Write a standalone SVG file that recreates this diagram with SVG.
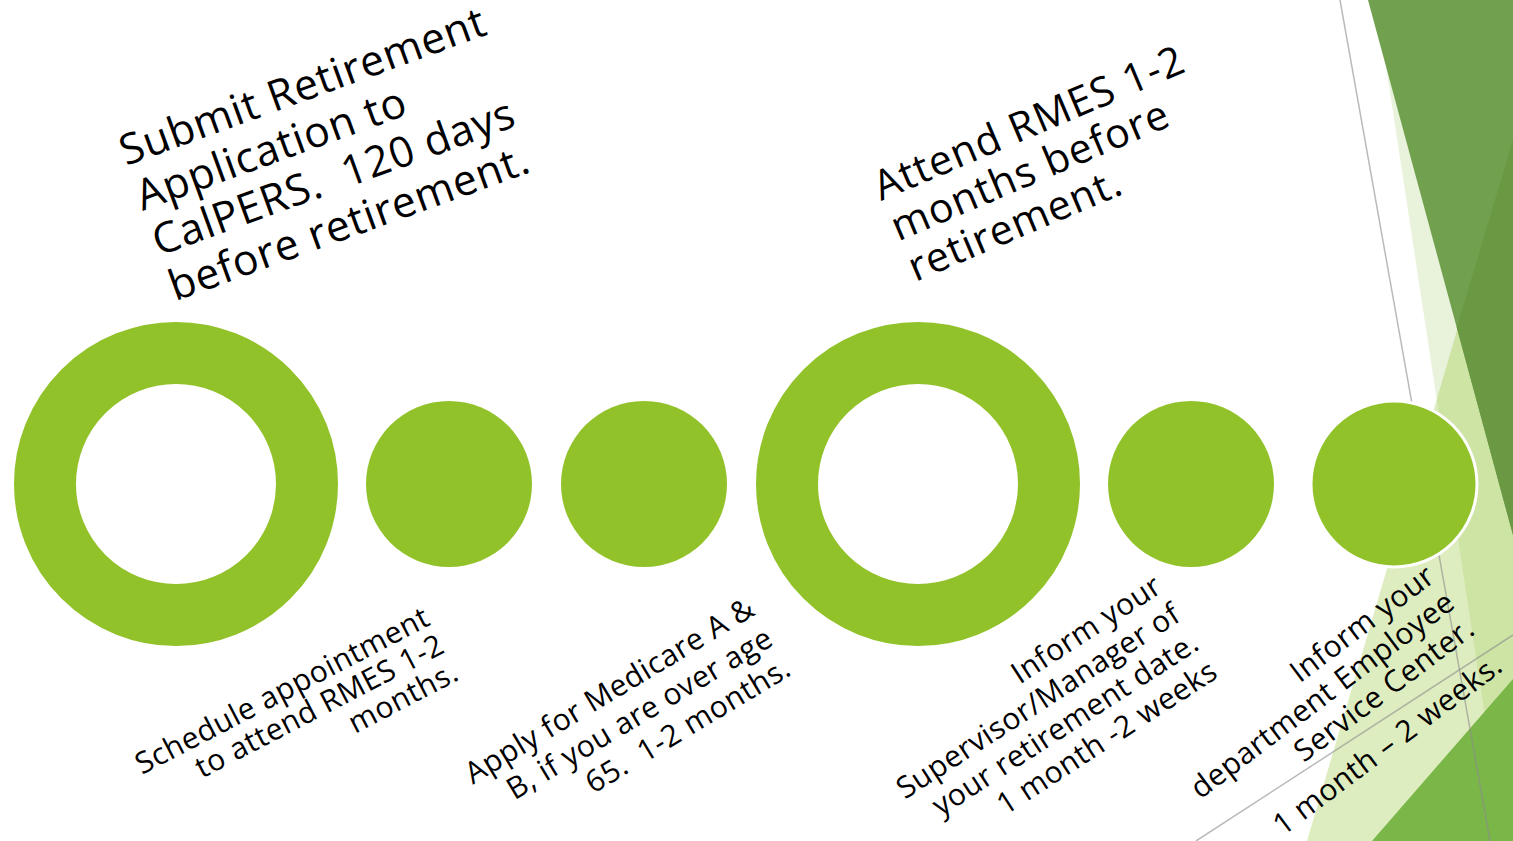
<svg xmlns="http://www.w3.org/2000/svg" width="1513" height="841" viewBox="0 0 1513 841">
<style>
.t{font-family:"Open Sans","Noto Sans","DejaVu Sans",sans-serif;fill:#000;white-space:pre}
.h1{font-size:42.5px;letter-spacing:0.8px}
.h2{font-size:41px;letter-spacing:1.1px}
.sm{font-size:30px;letter-spacing:0.5px;text-anchor:end}
.dot{fill:#92C22A}
.ring{fill:none;stroke:#92C22A;stroke-width:62}
.gl{stroke:#8C8C8C;stroke-opacity:0.6;stroke-width:1.5;fill:none}
</style>
<rect width="1513" height="841" fill="#FFFFFF"/>
<g id="background">
<polygon points="1376,0 1513,0 1513,841 1504,841" fill="#E9F2DA"/>
<polygon points="1513,140 1307,841 1513,841" fill="#92C22A" fill-opacity="0.3"/>
<polygon points="1368,0 1513,0 1513,535" fill="#71A04E"/>
<polygon points="1513,140 1456.8,327.5 1513,535" fill="#6A9843"/>
<polygon points="1372,841 1513,679 1513,841" fill="#7AB648"/>
<line class="gl" x1="1340" y1="0" x2="1490" y2="841"/>
<line class="gl" x1="1196" y1="841" x2="1513" y2="635"/>
</g>
<g id="node-ring1"><circle class="ring" cx="176" cy="484" r="131"/></g>
<g id="node-dot1"><circle class="dot" cx="449" cy="484" r="83"/></g>
<g id="node-dot2"><circle class="dot" cx="644" cy="484" r="83"/></g>
<g id="node-ring2"><circle class="ring" cx="918" cy="484" r="131"/></g>
<g id="node-dot3"><circle class="dot" cx="1191" cy="484" r="83"/></g>
<g id="node-dot4"><circle class="dot" cx="1394" cy="484" r="83" stroke="#FFFFFF" stroke-width="3"/></g>
<g id="connectors"></g>
<g id="label-submit" transform="translate(126,166) rotate(-20)">
<text class="t h1" x="0" y="0">Submit Retirement</text>
<text class="t h1" x="0" y="48">Application to</text>
<text class="t h1" x="0" y="96">CalPERS.  120 days</text>
<text class="t h1" x="0" y="144">before retirement.</text>
</g>
<g id="label-attend" transform="translate(881,201) rotate(-23)">
<text class="t h2" x="0" y="0">Attend RMES 1-2</text>
<text class="t h2" x="0" y="44">months before</text>
<text class="t h2" x="0" y="88">retirement.</text>
</g>
<g id="label-schedule" transform="translate(432,624) rotate(-27.5)">
<text class="t sm" x="0" y="0">Schedule appointment</text>
<text class="t sm" x="0" y="31">to attend RMES 1-2</text>
<text class="t sm" x="0" y="62">months.</text>
</g>
<g id="label-medicare" transform="translate(757,614) rotate(-31)">
<text class="t sm" x="0" y="0">Apply for Medicare A &amp;</text>
<text class="t sm" x="0" y="35">B, if you are over age</text>
<text class="t sm" x="0" y="70">65.  1-2 months.</text>
</g>
<g id="label-supervisor" transform="translate(1164,591) rotate(-33)">
<text class="t sm" x="0" y="0">Inform your</text>
<text class="t sm" x="0" y="34">Supervisor/Manager of</text>
<text class="t sm" x="0" y="68">your retirement date.</text>
<text class="t sm" x="0" y="102">1 month -2 weeks</text>
</g>
<g id="label-department" transform="translate(1437,580) rotate(-37)">
<text class="t sm" x="0" y="0">Inform your</text>
<text class="t sm" x="0" y="33">department Employee</text>
<text class="t sm" x="0" y="66">Service Center.</text>
<text class="t sm" x="0" y="112">1 month – 2 weeks.</text>
</g>
</svg>
